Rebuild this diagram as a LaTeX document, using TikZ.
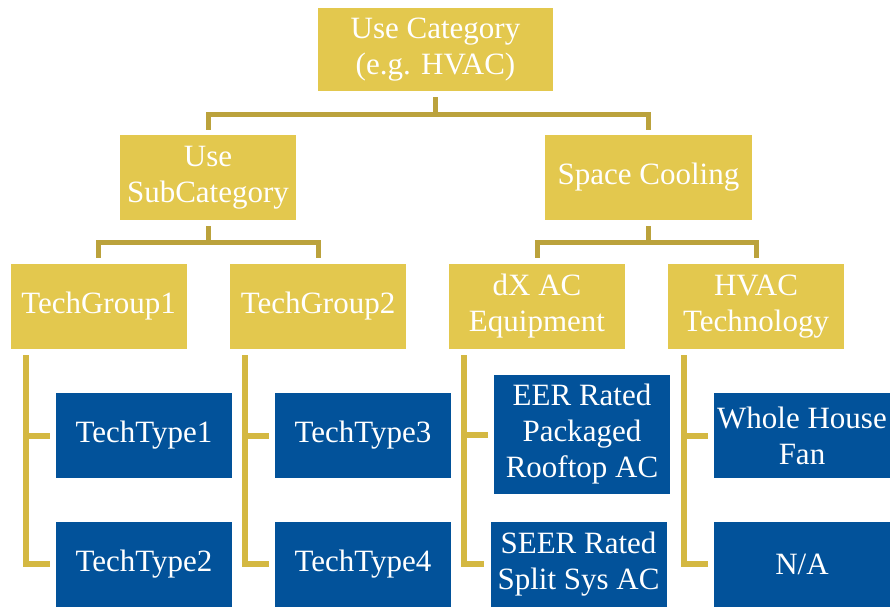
\documentclass[tikz,border=0pt]{standalone}
\usepackage{fontspec}
\setmainfont{Liberation Serif}
\definecolor{hgold}{RGB}{227,200,78}
\definecolor{hblue}{RGB}{2,82,154}
\definecolor{hlink}{RGB}{187,162,60}
\definecolor{hbracket}{RGB}{212,184,66}
\begin{document}
\begin{tikzpicture}[
  x=1pt, y=-1pt,
  catbox/.style={fill=hgold, text=white, align=center, inner sep=0pt,
    minimum width=176pt, minimum height=85pt, font=\fontsize{31}{36}\selectfont},
  typebox/.style={catbox, fill=hblue},
  link/.style={draw=hlink, line width=5pt},
  bracket/.style={draw=hbracket, line width=6pt}
]
\useasboundingbox (0,0) rectangle (892,606);

% category levels
\node[catbox, minimum width=235pt, minimum height=83pt] (root) at (435.5,49.5) {Use Category\\(e.g. HVAC)};
\node[catbox] (usesub) at (208,177.5) {Use\\SubCategory};
\node[catbox, minimum width=207pt] (space) at (648.5,177.5) {Space Cooling};

\node[catbox] (tg1) at (98.5,306.5) {TechGroup1};
\node[catbox] (tg2) at (318,306.5) {TechGroup2};
\node[catbox] (dx) at (537,306.5) {dX AC\\Equipment};
\node[catbox] (hvac) at (756,306.5) {HVAC\\Technology};

% technology types
\node[typebox] (tt1) at (144,435.5) {TechType1};
\node[typebox] (tt2) at (144,564) {TechType2};
\node[typebox] (tt3) at (363,435.5) {TechType3};
\node[typebox] (tt4) at (363,564) {TechType4};
\node[typebox, minimum height=119pt] (eer) at (582,434.5) {EER Rated\\Packaged\\Rooftop AC};
\node[typebox] (seer) at (578.5,564) {SEER Rated\\Split Sys AC};
\node[typebox] (fan) at (802,435.5) {Whole House\\Fan};
\node[typebox] (na) at (802,564) {N/A};

% tree connectors
\coordinate (j1) at (435.5,114);
\coordinate (j2) at (208,242);
\coordinate (j3) at (648.5,242);
\draw[link] ([yshift=-6pt]root.south) -- (j1);
\draw[link] ([yshift=5pt]usesub.north) |- (j1) -| ([yshift=5pt]space.north);
\draw[link] ([yshift=-6pt]usesub.south) -- (j2);
\draw[link] ([yshift=6pt]tg1.north) |- (j2) -| ([yshift=6pt]tg2.north);
\draw[link] ([yshift=-6pt]space.south) -- (j3);
\draw[link] ([yshift=6pt]dx.north) |- (j3) -| ([yshift=6pt]hvac.north);

% brackets down to the types
\draw[bracket] ([xshift=16pt,yshift=-6pt]tg1.south west) |- ([xshift=-6pt]tt2.west);
\draw[bracket] ([xshift=16pt]tg1.south west |- tt1.west) -- ([xshift=-6pt]tt1.west);
\draw[bracket] ([xshift=15pt,yshift=-6pt]tg2.south west) |- ([xshift=-6pt]tt4.west);
\draw[bracket] ([xshift=15pt]tg2.south west |- tt3.west) -- ([xshift=-6pt]tt3.west);
\draw[bracket] ([xshift=15pt,yshift=-6pt]dx.south west) |- ([xshift=-6pt]seer.west);
\draw[bracket] ([xshift=15pt]dx.south west |- eer.west) -- ([xshift=-6pt]eer.west);
\draw[bracket] ([xshift=16pt,yshift=-6pt]hvac.south west) |- ([xshift=-6pt]na.west);
\draw[bracket] ([xshift=16pt]hvac.south west |- fan.west) -- ([xshift=-6pt]fan.west);

\end{tikzpicture}
\end{document}
